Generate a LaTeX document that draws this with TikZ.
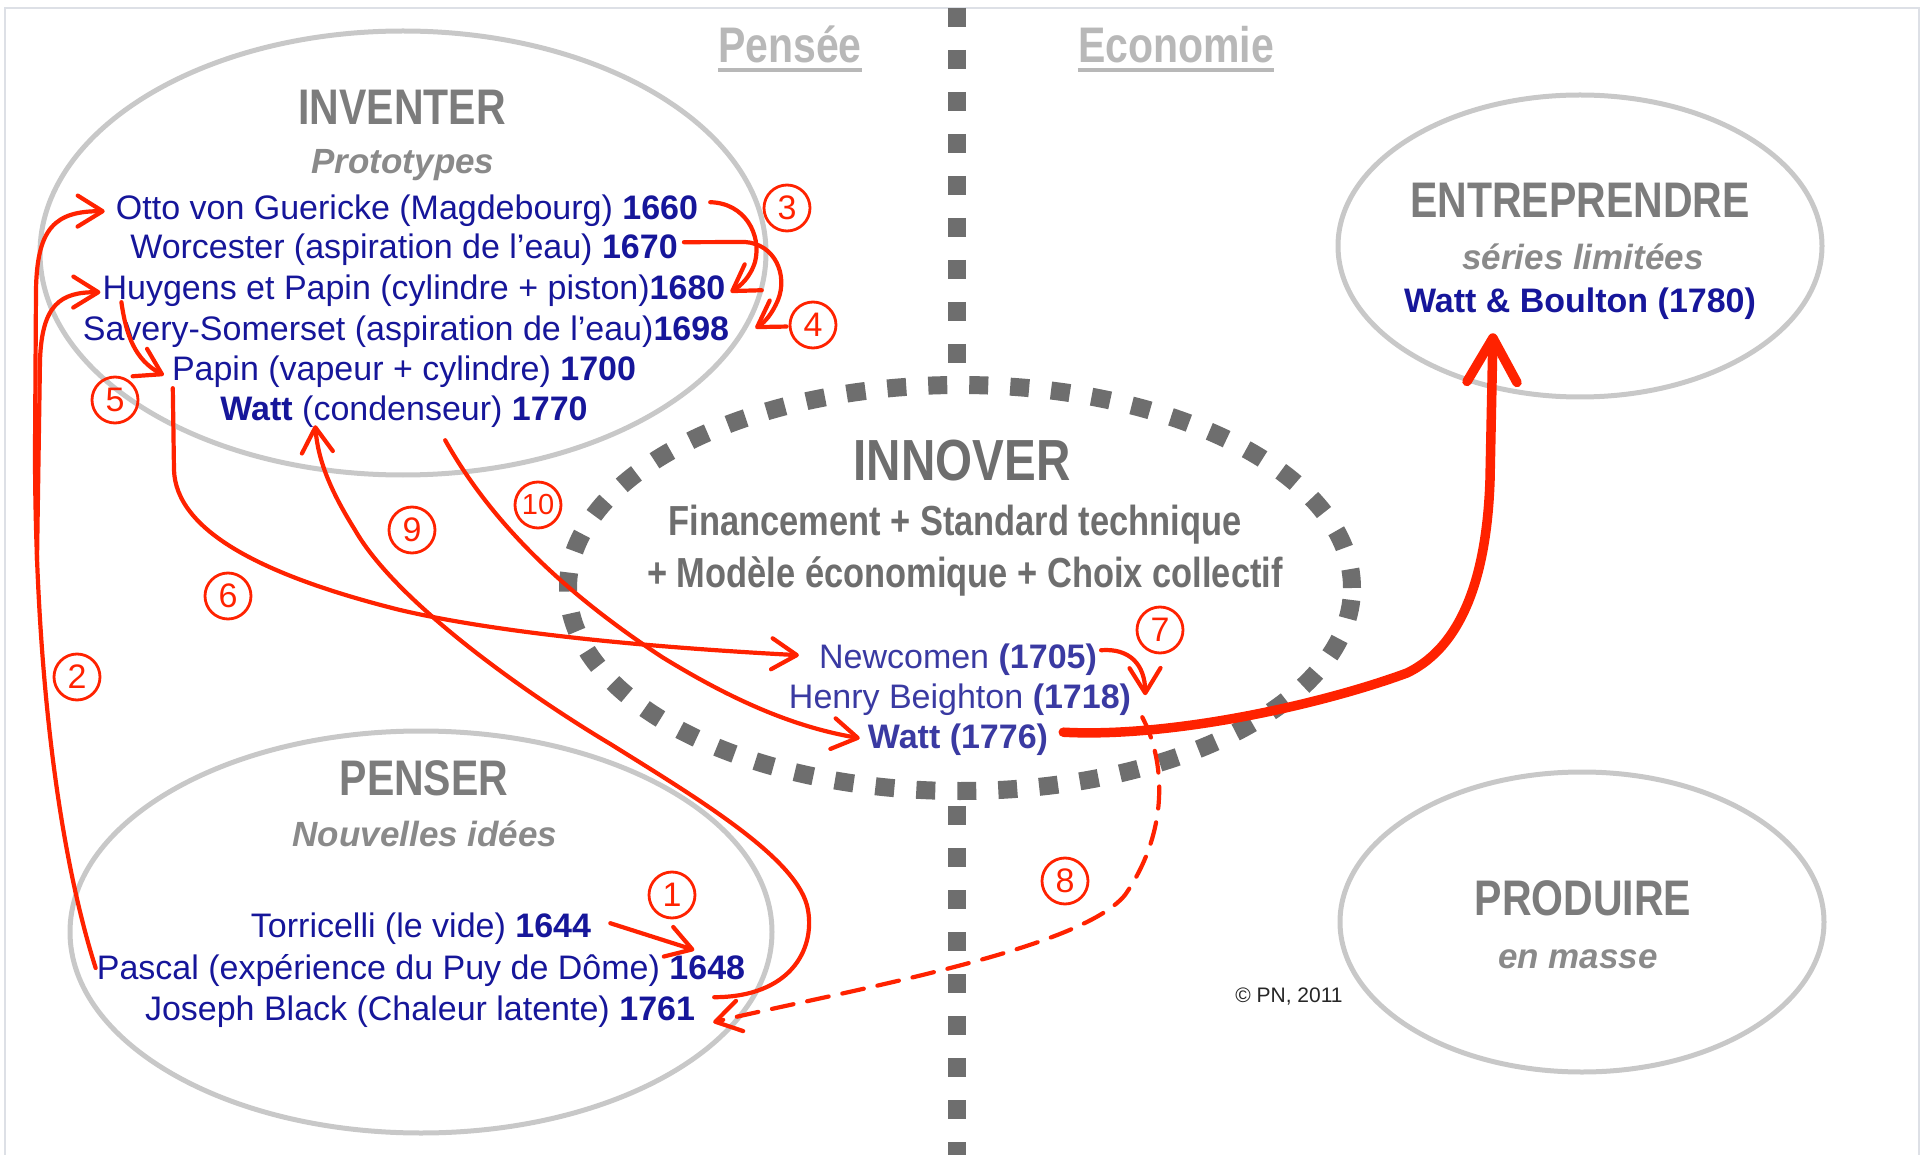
\documentclass[tikz,border=0pt]{standalone}
\usepackage{fontspec}
\setmainfont{Liberation Sans}
\newfontfamily\condf[FakeStretch=0.82]{Liberation Sans}
\usetikzlibrary{arrows.meta,calc,shapes.geometric}
\definecolor{navyb}{HTML}{16169A}
\definecolor{innblue}{HTML}{3A3AA2}
\definecolor{tgray}{HTML}{7C7C7C}
\definecolor{sgray}{HTML}{8A8A8A}
\definecolor{lgray}{HTML}{B8B8B8}
\definecolor{egray}{HTML}{C8C8C8}
\definecolor{dgray}{HTML}{6E6E6E}
\definecolor{rred}{HTML}{FF2200}
\definecolor{framec}{HTML}{DDE0E6}
\begin{document}
\begin{tikzpicture}[x=1pt,y=-1pt,
  ttl/.style={anchor=base, inner sep=0pt, font=\condf\bfseries\fontsize{50}{56}\selectfont},
  sub/.style={anchor=base, inner sep=0pt, text=sgray, font=\bfseries\itshape\fontsize{35}{40}\selectfont},
  itm/.style={anchor=base, inner sep=0pt, text=navyb, font=\fontsize{34}{40}\selectfont},
  innsub/.style={anchor=base, inner sep=0pt, text=dgray, font=\condf\bfseries\fontsize{42}{48}\selectfont},
  eshape/.style={ellipse, draw=egray, line width=5pt, inner sep=0pt},
  cnum/.style={circle, draw=rred, line width=2.8pt, minimum size=46pt, inner sep=0pt, text=rred, font=\fontsize{34}{34}\selectfont},
  rarr/.style={draw=rred, line width=4.2pt, line cap=round, line join=round, -{Straight Barb[length=25pt,width=31pt,round]}},
  thickarr/.style={draw=rred, line width=9.5pt, line cap=round, line join=round, -{Straight Barb[length=44pt,width=50pt,round]}}
]
\useasboundingbox (0,0) rectangle (1923,1155);
% frame
\draw[framec, line width=1.5pt] (5,1160) -- (5,8) -- (1919,8) -- (1919,1160);
% vertical divider
\draw[dgray, line width=18pt, dash pattern=on 19pt off 23pt] (957,8) -- (957,1160);
% ellipses
\node[ellipse, draw=dgray, fill=white, line width=18pt, dash pattern=on 19pt off 22pt, minimum width=784pt, minimum height=406pt, inner sep=0pt] (eInn) at (960,588) {};
\node[eshape, minimum width=726pt, minimum height=444pt] (eInv) at (403,253) {};
\node[eshape, minimum width=702pt, minimum height=402pt] (ePen) at (421,932) {};
\node[eshape, minimum width=484pt, minimum height=302pt] (eEnt) at (1580,246) {};
\node[eshape, minimum width=484pt, minimum height=300pt] (ePro) at (1582,922) {};
% headers
\node[ttl, text=lgray] (pensee) at (790,63) {Pensée};
\node[ttl, text=lgray] (econ) at (1176,63) {Economie};
\draw[lgray, line width=3.5pt] ($(pensee.base west)+(0,7)$) -- ($(pensee.base east)+(0,7)$);
\draw[lgray, line width=3.5pt] ($(econ.base west)+(0,7)$) -- ($(econ.base east)+(0,7)$);
% INVENTER
\node[ttl, text=tgray] (invT) at (402,125) {INVENTER};
\node[sub] (invS) at (403,174) {Prototypes};
\node[itm] (otto) at (407,220) {Otto von Guericke (Magdebourg) \textbf{1660}};
\node[itm] (worc) at (404,259) {Worcester (aspiration de l’eau) \textbf{1670}};
\node[itm] (huy) at (414,300) {Huygens et Papin (cylindre + piston)\textbf{1680}};
\node[itm] (sav) at (406,341) {Savery-Somerset (aspiration de l’eau)\textbf{1698}};
\node[itm] (papin) at (404,381) {Papin (vapeur + cylindre) \textbf{1700}};
\node[itm] (wattc) at (404,421) {\textbf{Watt} (condenseur) \textbf{1770}};
% PENSER
\node[ttl, text=tgray] (penT) at (424,795) {PENSER};
\node[sub] (penS) at (425,846) {Nouvelles idées};
\node[itm] (torr) at (421,937) {Torricelli (le vide) \textbf{1644}};
\node[itm] (pascal) at (421,979) {Pascal (expérience du Puy de Dôme) \textbf{1648}};
\node[itm] (black) at (420,1020) {Joseph Black (Chaleur latente) \textbf{1761}};
% INNOVER
\node[ttl, text=dgray, font=\condf\bfseries\fontsize{58}{64}\selectfont] (innT) at (962,480) {INNOVER};
\node[innsub] (inn1) at (955,535) {Financement + Standard technique};
\node[innsub] (inn2) at (965,587) {+ Modèle économique + Choix collectif};
\node[itm, text=innblue] (newc) at (958,668) {Newcomen \textbf{(1705)}};
\node[itm, text=innblue] (henry) at (960,708) {Henry Beighton \textbf{(1718)}};
\node[itm, text=innblue] (wattI) at (958,748) {\textbf{Watt (1776)}};
% ENTREPRENDRE
\node[ttl, text=tgray] (entT) at (1580,218) {ENTREPRENDRE};
\node[sub] (entS) at (1583,270) {séries limitées};
\node[itm] (wb) at (1580,313) {\textbf{Watt \& Boulton (1780)}};
% PRODUIRE
\node[ttl, text=tgray] (proT) at (1583,915) {PRODUIRE};
\node[sub] (proS) at (1578,968) {en masse};
\node[anchor=base, inner sep=0pt, font=\fontsize{21}{24}\selectfont, text=black!85] (copy) at (1289,1002) {© PN, 2011};
% circled numbers
\node[cnum] (n1) at (672,895) {1};
\node[cnum] (n2) at (77,677) {2};
\node[cnum] (n3) at (787,208) {3};
\node[cnum] (n4) at (813,325) {4};
\node[cnum] (n5) at (115,400) {5};
\node[cnum] (n6) at (228,596) {6};
\node[cnum] (n7) at (1160,630) {7};
\node[cnum] (n8) at (1065,881) {8};
\node[cnum] (n9) at (412,530) {9};
\node[cnum, font=\fontsize{29}{29}\selectfont] (n10) at (538,505) {10};
% arrows
% 1
\draw[rarr] ($(torr.east)+(19,-5)$) -- ($(pascal.east)+(-51,-20)$);
% 2
\coordinate (brk) at (37,560);
\draw[rarr] ($(pascal.west)+(-1,-2)$) .. controls (55,840) and (35,650) .. (35,450) -- (36,290) .. controls (37,228) and (55,211) .. ($(otto.west)+(-11,0)$);
\draw[rarr] (brk) -- (40,360) .. controls (42,305) and (60,292) .. ($(huy.west)+(-2,1)$);
% 3
\draw[rarr] ($(otto.east)+(12,-9)$) .. controls (745,203) and (762,235) .. (755,262) .. controls (750,278) and (740,286) .. ($(huy.east)+(5,1)$);
% 4
\draw[rarr] ($(worc.east)+(6,-8)$) -- (745,242) .. controls (775,244) and (788,275) .. (778,300) .. controls (772,314) and (765,322) .. ($(sav.east)+(26,-4)$);
% 5
\draw[rarr] ($(huy.west)+(19,11)$) .. controls (126,335) and (135,360) .. ($(papin.west)+(-8,3)$);
% 6
\draw[rarr] ($(papin.west)+(1,16)$) -- (174,470) .. controls (176,530) and (260,575) .. (400,610) .. controls (520,638) and (700,650) .. ($(newc.west)+(-20,-4)$);
% 7
\draw[rarr] ($(newc.east)+(4,-9)$) .. controls (1130,648) and (1145,665) .. ($(henry.east)+(14,-4)$);
% 8
\draw[rarr, dash pattern=on 22pt off 14pt] ($(henry.east)+(11,18)$) .. controls (1165,760) and (1170,830) .. (1125,895) .. controls (1080,950) and (850,990) .. ($(black.east)+(18,11)$);
% 9
\draw[rarr] ($(black.east)+(19,-14)$) .. controls (790,997) and (815,950) .. (808,910) .. controls (800,860) and (700,800) .. (612,745) .. controls (520,690) and (395,600) .. (355,530) .. controls (330,490) and (318,460) .. ($(wattc.south west)+(95,-3)$);
% 10
\draw[rarr] ($(wattc.south west)+(225,12)$) .. controls (490,520) and (560,590) .. (662,657) .. controls (740,705) and (800,728) .. ($(wattI.west)+(-8,-1)$);
% thick
\draw[thickarr] ($(wattI.east)+(15,-7)$) .. controls (1170,738) and (1320,705) .. (1407,673) .. controls (1465,645) and (1487,570) .. (1490,480) -- ($(wb.south)+(-87,13)$);
\end{tikzpicture}
\end{document}
